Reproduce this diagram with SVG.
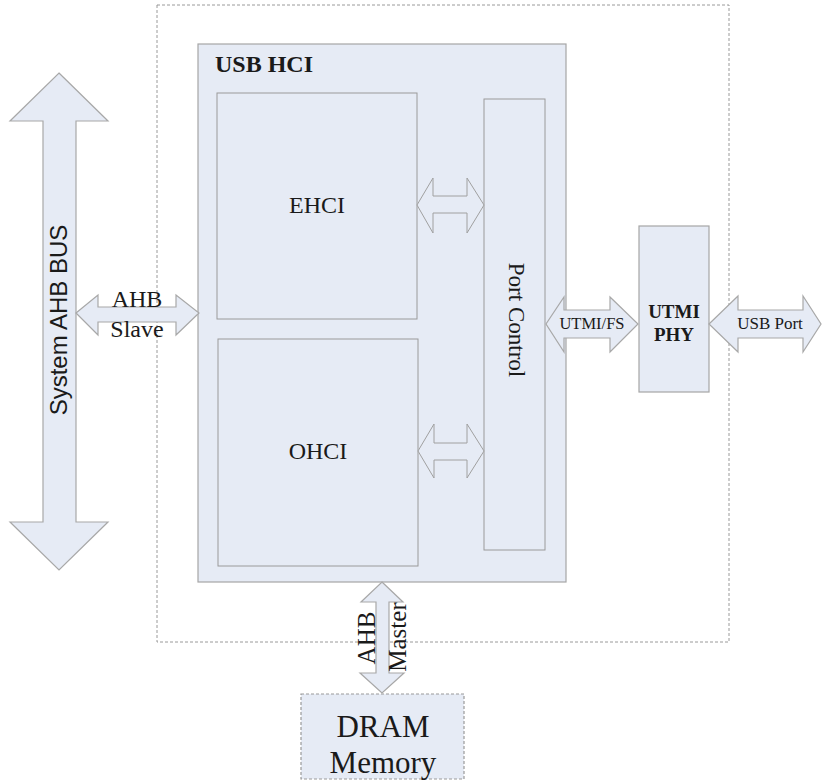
<svg xmlns="http://www.w3.org/2000/svg" width="822" height="782" viewBox="0 0 822 782">
<style>
.box{fill:#e6ebf5;stroke:#a6a6a6;stroke-width:1.2}
.inner{fill:#e6ebf5;stroke:#9a9a9a;stroke-width:1}
.dash{fill:none;stroke:#9a9a9a;stroke-width:1;stroke-dasharray:3,2}
.arr{fill:#e6ebf5;stroke:#a8a8a8;stroke-width:1.2;stroke-linejoin:miter}
.harr{fill:#e6ebf5;stroke:#a0a0a0;stroke-width:1}
.serif{font-family:"Liberation Serif","Times New Roman",serif;fill:#1a1a1a}
.sans{font-family:"Liberation Sans",Arial,sans-serif;fill:#1a1a1a}
</style>
<rect width="822" height="782" fill="#ffffff"/>
<g id="outer">
<rect class="dash" x="157" y="5" width="572" height="637"/>
</g>
<g id="usb-hci">
<rect class="box" x="198" y="44" width="368" height="538"/>
<text class="serif" x="215" y="72" font-size="24" font-weight="bold">USB HCI</text>
</g>
<g id="ehci">
<rect class="inner" x="217" y="93" width="200" height="226"/>
<text class="serif" x="317" y="213" font-size="24" text-anchor="middle">EHCI</text>
</g>
<g id="ohci">
<rect class="inner" x="218" y="339" width="200" height="227"/>
<text class="serif" x="318" y="459" font-size="24" text-anchor="middle">OHCI</text>
</g>
<g id="port-control">
<rect class="inner" x="484" y="99" width="61" height="451"/>
<text class="serif" font-size="23" text-anchor="middle" transform="translate(509,320) rotate(90)">Port Control</text>
</g>
<g id="utmi-phy">
<rect class="box" x="639" y="226" width="70" height="166"/>
<text class="serif" x="674" y="318" font-size="19" font-weight="bold" text-anchor="middle">UTMI</text>
<text class="serif" x="674" y="341" font-size="19" font-weight="bold" text-anchor="middle">PHY</text>
</g>
<g id="dram">
<rect class="box" x="301" y="694" width="163" height="85" style="stroke-dasharray:3,2;stroke:#9a9a9a"/>
<text class="serif" x="383" y="737" font-size="31" text-anchor="middle">DRAM</text>
<text class="serif" x="383" y="773" font-size="31" text-anchor="middle">Memory</text>
</g>
<g id="system-ahb-bus">
<polygon class="arr" points="59,73 108,121 76,121 76,522 108,522 59,570 10,522 43,522 43,121 10,121"/>
<text class="sans" font-size="24" text-anchor="middle" transform="translate(67,320) rotate(-90)">System AHB BUS</text>
</g>
<g id="connectors">
<polygon class="arr" points="76,313 98,295 98,307 176,307 176,295 199,313 176,335 176,322 98,322 98,335"/>
<text class="serif" x="137" y="307" font-size="24" text-anchor="middle">AHB</text>
<text class="serif" x="137" y="337" font-size="24" text-anchor="middle">Slave</text>
<polygon class="harr" points="417,205 433,178 433,196 467,196 467,178 484,205 467,233 467,213 433,213 433,233"/>
<polygon class="harr" points="418,451 434,424 434,443 467,443 467,424 484,451 467,478 467,460 434,460 434,478"/>
<polygon class="arr" points="546,324 564,297 564,310 610,310 610,297 638,324 610,352 610,338 564,338 564,352"/>
<text class="serif" x="592" y="329" font-size="16.5" text-anchor="middle">UTMI/FS</text>
<polygon class="arr" points="709,324 738,296 738,310 803,310 803,296 821,324 803,352 803,338 738,338 738,352"/>
<text class="serif" x="770" y="329" font-size="17" text-anchor="middle">USB Port</text>
<polygon class="arr" points="382,582 403,602 389,602 389,673 404,673 382,693 360,673 376,673 376,602 361,602"/>
<text class="serif" font-size="25" text-anchor="middle" transform="translate(375,638) rotate(-90)">AHB</text>
<text class="serif" font-size="25" text-anchor="middle" transform="translate(406,637) rotate(-90)">Master</text>
</g>
</svg>
